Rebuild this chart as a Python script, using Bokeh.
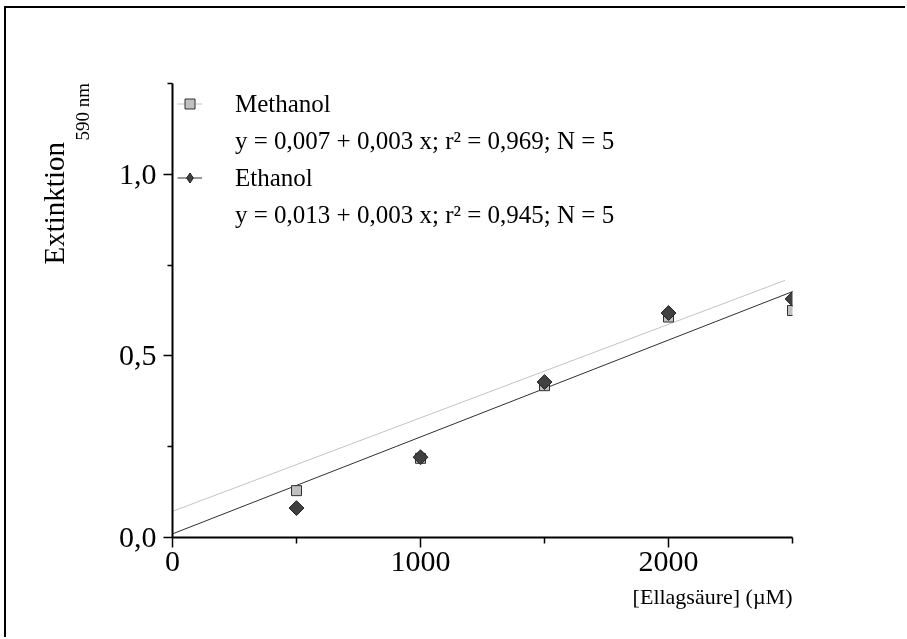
import math
from bokeh.plotting import figure
from bokeh.models import (FixedTicker, Legend, LegendItem, Title, Range1d)
from bokeh.embed import file_html
from bokeh.resources import INLINE

# ---- data ----
conc = [500, 1000, 1500, 2000, 2500]
methanol = [0.129, 0.218, 0.418, 0.607, 0.625]
ethanol = [0.081, 0.221, 0.428, 0.618, 0.657]
meth_fit_x = [0, 2470]
meth_fit_y = [0.072, 0.708]
eth_fit_x = [0, 2500]
eth_fit_y = [0.010, 0.677]

x_ticks = [0, 1000, 2000]
x_minor = [500, 1500, 2500]
y_ticks = [0, 0.5, 1.0]
y_tick_labels = ["0,0", "0,5", "1,0"]
y_minor = [0.25, 0.75, 1.25]

series_names = ["Methanol", "Ethanol"]
equations = ["y = 0,007 + 0,003 x; r² = 0,969; N = 5",
             "y = 0,013 + 0,003 x; r² = 0,945; N = 5"]
x_title = "[Ellagsäure] (µM)"
y_title = "Extinktion"
y_title_sub = "590 nm"

FONT = "Liberation Serif"

# page offset of the framed figure (outer border at left/top)
OFF_X, OFF_Y = 6, 8
W, H = 907 - OFF_X, 639 - OFF_Y

p = figure(width=W, height=H, x_range=Range1d(0, 2500), y_range=Range1d(0, 1.25),
           output_backend="svg", toolbar_location=None,
           min_border_left=172 - OFF_X, min_border_right=W - (172 - OFF_X) - 620,
           min_border_top=83 - OFF_Y, min_border_bottom=H - (83 - OFF_Y) - 454)
p.styles = {"position": "fixed", "left": "6px", "top": "8px", "margin": "0px",
            "border": "none", "box-shadow": "-2px -2px 0px 0px black"}
p.outline_line_color = None
p.xgrid.visible = False
p.ygrid.visible = False
p.background_fill_color = "white"
p.border_fill_color = "white"

# axes
for ax in (p.xaxis[0], p.yaxis[0]):
    ax.axis_line_color = "black"
    ax.axis_line_width = 2
    ax.major_tick_line_color = "black"
    ax.major_tick_line_width = 1.5
    ax.minor_tick_line_color = "black"
    ax.minor_tick_line_width = 1.5
    ax.major_tick_in = 0
    ax.minor_tick_in = 0
    ax.major_label_text_font = FONT
    ax.major_label_text_font_size = "30px"
    ax.major_label_text_color = "black"

p.xaxis[0].ticker = FixedTicker(ticks=x_ticks, minor_ticks=x_minor)
p.xaxis[0].major_tick_out = 10
p.xaxis[0].minor_tick_out = 6
p.xaxis[0].major_label_standoff = 4

p.yaxis[0].ticker = FixedTicker(ticks=y_ticks, minor_ticks=y_minor)
p.yaxis[0].major_label_overrides = dict(zip(y_ticks, y_tick_labels))
p.yaxis[0].major_tick_out = 9
p.yaxis[0].minor_tick_out = 5
p.yaxis[0].major_label_standoff = 7

# fit lines
r_mline = p.line(meth_fit_x, meth_fit_y, line_color="#C4C4C4", line_width=1)
r_eline = p.line(eth_fit_x, eth_fit_y, line_color="#303030", line_width=1)

# markers
r_ms = p.scatter(conc, methanol, marker="square", size=10, fill_color="#C0C0C0",
                 line_color="#303030", line_width=1)
r_es = p.scatter(conc, ethanol, marker="square", angle=math.pi / 4, size=10.5,
                 fill_color="#404040", line_color="#202020", line_width=1)
# legend glyph for the ethanol diamonds (hidden on the plot itself)
r_es_leg = p.scatter(conc, ethanol, marker="diamond", size=15, visible=False,
                     fill_color="#404040", line_color="#202020", line_width=1)

dummy1 = p.line([], [], line_alpha=0)
dummy2 = p.line([], [], line_alpha=0)

legend = Legend(items=[
    LegendItem(label=series_names[0], renderers=[r_mline, r_ms]),
    LegendItem(label=equations[0], renderers=[dummy1]),
    LegendItem(label=series_names[1], renderers=[r_eline, r_es_leg]),
    LegendItem(label=equations[1], renderers=[dummy2]),
], location=(5, 304), orientation="vertical", glyph_width=25, glyph_height=37,
    label_height=37, label_standoff=33, spacing=0, padding=0, margin=0,
    border_line_color=None, background_fill_alpha=0, inactive_fill_alpha=0,
    label_text_font=FONT, label_text_font_size="25px", label_text_color="black")
p.add_layout(legend)

# axis titles as side-panel titles
t_x = Title(text=x_title, align="right", vertical_align="middle", standoff=18,
            text_font=FONT, text_font_size="22px", text_font_style="normal",
            text_color="black")
p.add_layout(t_x, "below")

t_gap = Title(text=" ", align="left", vertical_align="bottom", standoff=20,
              text_font=FONT, text_font_size="1px", text_font_style="normal")
t_sub = Title(text=y_title_sub, align="left", offset=397, vertical_align="bottom", standoff=0,
              text_font=FONT, text_font_size="19px", text_font_style="normal",
              text_color="black")
t_main = Title(text=y_title, align="left", offset=273, vertical_align="bottom", standoff=0,
               text_font=FONT, text_font_size="29px", text_font_style="normal",
               text_color="black")
p.add_layout(t_gap, "left")
p.add_layout(t_sub, "left")
p.add_layout(t_main, "left")

open("out.html", "w").write(file_html(p, INLINE))
